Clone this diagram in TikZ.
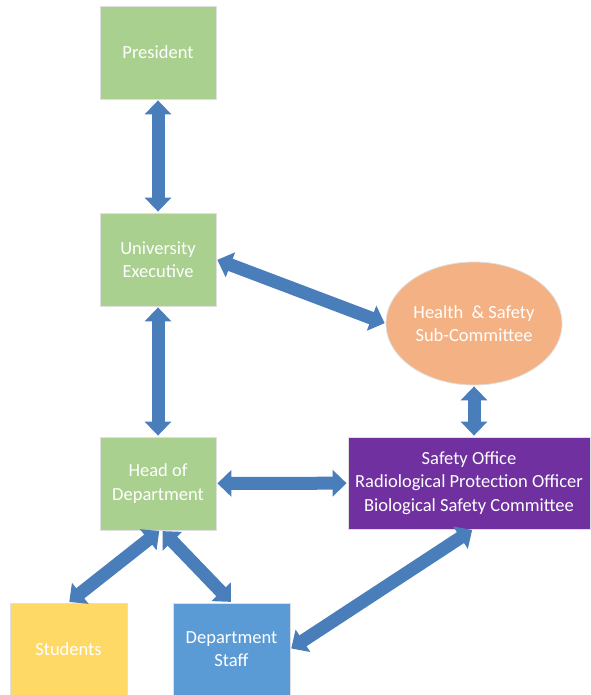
\documentclass[tikz,border=0pt]{standalone}
\usepackage{fontspec}
\setmainfont{Carlito}
\usepackage{tikz}
\usetikzlibrary{shapes.geometric}
\usetikzlibrary{arrows.meta,calc}

\definecolor{boxgreen}{HTML}{A9D08E}
\definecolor{boxorange}{HTML}{F4B183}
\definecolor{boxpurple}{HTML}{7030A0}
\definecolor{boxyellow}{HTML}{FFD966}
\definecolor{boxblue}{HTML}{5B9BD5}
\definecolor{arrowblue}{HTML}{4A7EBB}
\definecolor{arrowedge}{HTML}{41719C}

\tikzset{
  unit/.style={draw=white!75!gray,line width=0.8pt,text=white,align=center,
    font=\fontsize{18.5}{23.5}\selectfont,inner sep=0pt},
  sqbox/.style={unit,rectangle,minimum width=116pt,minimum height=93pt},
  twoway/.style={line width=13pt,draw=arrowblue,
    {Triangle[width=26pt,length=14pt]}-{Triangle[width=26pt,length=14pt]},
    shorten <=1pt,shorten >=1pt}
}

\begin{document}
\begin{tikzpicture}[x=1pt,y=-1pt]
     \useasboundingbox (0,0) rectangle (590,695);
     %方框
     \node[sqbox,fill=boxgreen] (pres) at (158,52.5) {President};
     \node[sqbox,fill=boxgreen] (uexec) at (158,259.5) {University\\Executive};
     \node[sqbox,fill=boxgreen] (hod) at (158,483.5) {Head of\\Department};
     \node[sqbox,fill=boxyellow,minimum width=117pt,minimum height=92pt] (stud) at (68.5,649) {Students};
     \node[sqbox,fill=boxblue,minimum width=117pt,minimum height=92pt] (staff) at (231.5,649) {Department\\Staff};
     \node[unit,ellipse,fill=boxorange,minimum width=176pt,minimum height=123pt] (hs) at (474,323.5) {Health~ \& Safety\\Sub-Committee};
     \node[unit,rectangle,fill=boxpurple,minimum width=242pt,minimum height=92pt] (so) at (469,483)
        {Safety Office\\Radiological Protection Officer\\Biological Safety Committee};

     %箭头
     \draw[twoway] (pres) -- (uexec);
     \draw[twoway] (uexec) -- (hod);
     \draw[twoway] (uexec.east) -- (hs.west);
     \draw[twoway] (hs.south) -- (hs.south |- so.north);
     \draw[twoway] (hod) -- (so);
     \draw[twoway] ($(hod.south)+(2,0)$) -- (stud.north);
     \draw[twoway] ($(hod.south)+(4,0)$) -- (staff.north);
     \draw[twoway] (staff.east) -- ($(so.south)+(4,0)$);
\end{tikzpicture}
\end{document}
